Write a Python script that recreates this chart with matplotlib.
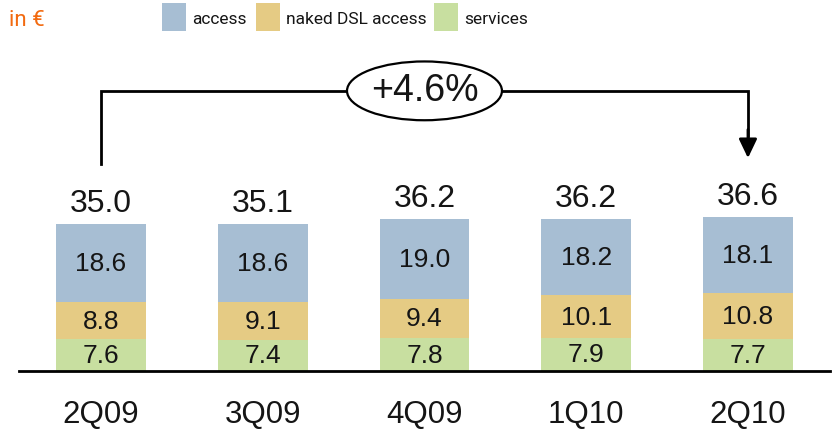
import matplotlib
matplotlib.use("Agg")
import matplotlib.pyplot as plt
from matplotlib.patches import Ellipse, Rectangle

categories = ["2Q09", "3Q09", "4Q09", "1Q10", "2Q10"]
services = [7.6, 7.4, 7.8, 7.9, 7.7]
naked_dsl = [8.8, 9.1, 9.4, 10.1, 10.8]
access = [18.6, 18.6, 19.0, 18.2, 18.1]
totals = [35.0, 35.1, 36.2, 36.2, 36.6]
growth_label = "+4.6%"
series_names = ["access", "naked DSL access", "services"]

c_access = "#A7BED3"
c_naked = "#E5CB84"
c_serv = "#C8DFA0"

plt.rcParams['font.family'] = ['Liberation Sans', 'DejaVu Sans']
legend_font = ['Roboto', 'Liberation Sans', 'DejaVu Sans']

fig = plt.figure(figsize=(8.4, 4.31), dpi=100)
ax = fig.add_axes([0, 0, 1, 1])
ax.set_xlim(-0.6244, 4.569)
ax.set_ylim(-14.05, 88.57)
ax.axis("off")

x = list(range(len(categories)))
w = 0.556
ax.bar(x, services, width=w, color=c_serv, zorder=2)
ax.bar(x, naked_dsl, width=w, bottom=services, color=c_naked, zorder=2)
b2 = [s + n for s, n in zip(services, naked_dsl)]
ax.bar(x, access, width=w, bottom=b2, color=c_access, zorder=2)

tc = "#151515"
for i in x:
    ax.text(i, services[i] / 2, f"{services[i]:.1f}", ha="center", va="center", fontsize=19, color=tc, zorder=3)
    ax.text(i, services[i] + naked_dsl[i] / 2, f"{naked_dsl[i]:.1f}", ha="center", va="center", fontsize=19, color=tc, zorder=3)
    ax.text(i, b2[i] + access[i] / 2, f"{access[i]:.1f}", ha="center", va="center", fontsize=19, color=tc, zorder=3)
    ax.text(i, totals[i] + 5.0, f"{totals[i]:.1f}", ha="center", va="center", fontsize=23, color=tc)
    ax.text(i, -10.2, categories[i], ha="center", va="center", fontsize=22.5, color=tc)

# baseline
ax.axhline(0, xmin=19 / 840, xmax=830 / 840, color="black", lw=2, zorder=4)

# bracket
ytop = 66.7
ax.plot([0, 0, 4, 4], [49.3, ytop, ytop, 56], color="black", lw=2, solid_joinstyle="miter")
ax.annotate("", xy=(4, 50.7), xytext=(4, 57.5),
            arrowprops=dict(arrowstyle="-|>,head_length=1.15,head_width=0.55", color="black", lw=2, shrinkA=0, shrinkB=0))
ell = Ellipse((2.0, ytop), width=0.958, height=14.0, facecolor="white", edgecolor="black", lw=1.6, zorder=5)
ax.add_patch(ell)
ax.text(2.0, ytop + 0.3, growth_label, ha="center", va="center", fontsize=27, color=tc, zorder=6)

# unit label
fig.text(9 / 840, 1 - 20 / 431, "in €", ha="left", va="center", fontsize=16, color="#F26A10", family=legend_font)

# legend
legend_items = [(162, 192, c_access, series_names[0]),
                (256, 286, c_naked, series_names[1]),
                (434, 464, c_serv, series_names[2])]
for sx, tx, col, name in legend_items:
    fig.patches.append(Rectangle((sx / 840, 1 - 32 / 431), 23.5 / 840, 28 / 431,
                                 transform=fig.transFigure, facecolor=col, edgecolor="none"))
    fig.text(tx / 840, 1 - 19 / 431, name, ha="left", va="center", fontsize=12.5, color=tc, family=legend_font)

fig.savefig("out.png", dpi=100)
